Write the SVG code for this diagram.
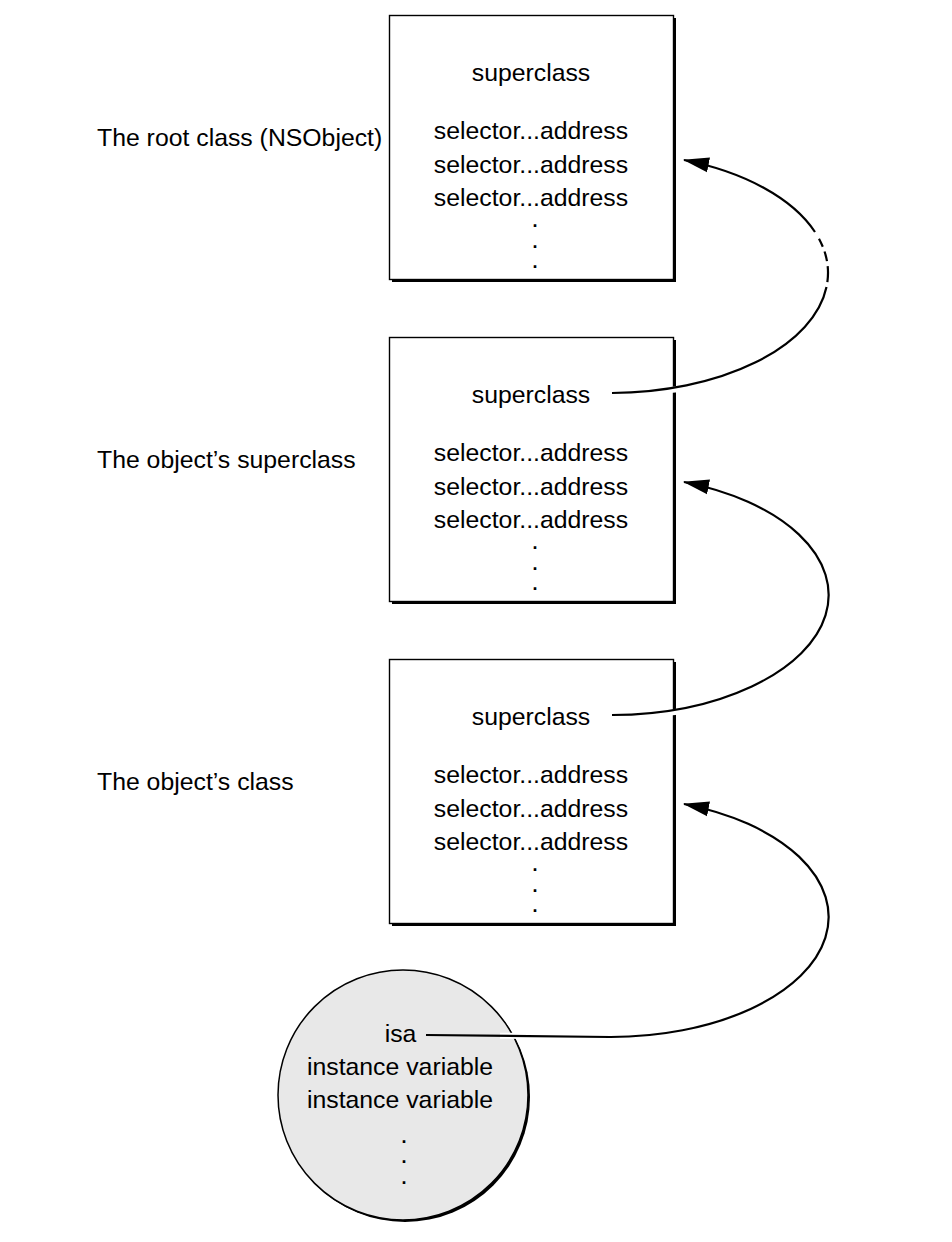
<svg xmlns="http://www.w3.org/2000/svg" width="952" height="1242" viewBox="0 0 952 1242">
<style>
text{font-family:"Liberation Sans",Arial,Helvetica,sans-serif;font-size:24.8px;fill:#000}
.c{text-anchor:middle}
.d{text-anchor:middle;font-size:18px;font-weight:bold}
.box{fill:#fff;stroke:#000;stroke-width:1.4}
.shadow{fill:#000}
.conn{fill:none;stroke:#000;stroke-width:2.2}
.halo{fill:none;stroke:#fff;stroke-width:6}
</style>
<defs>
<marker id="arrow" markerUnits="userSpaceOnUse" markerWidth="26" markerHeight="16" viewBox="0 0 26 16" refX="25" refY="8" orient="auto">
<path d="M0,0.5 L26,8 L0,15.5 Z" fill="#000"/>
</marker>
</defs>
<rect width="952" height="1242" fill="#fff"/>

<g id="label-root"><text x="97" y="146">The root class (NSObject)</text></g>
<g id="label-superclass"><text x="97" y="468">The object’s superclass</text></g>
<g id="label-class"><text x="97" y="790">The object’s class</text></g>

<g id="box-root">
<rect class="shadow" x="392" y="18" width="284" height="264"/>
<rect class="box" x="389.5" y="15.5" width="284" height="264"/>
<text class="c" x="531" y="80.5">superclass</text>
<text class="c" x="531" y="139">selector...address</text>
<text class="c" x="531" y="172.5">selector...address</text>
<text class="c" x="531" y="206">selector...address</text>
<text class="d" x="535" y="226.5">.</text>
<text class="d" x="535" y="247.5">.</text>
<text class="d" x="535" y="268.2">.</text>
</g>

<g id="box-superclass">
<rect class="shadow" x="392" y="340" width="284" height="264"/>
<rect class="box" x="389.5" y="337.5" width="284" height="264"/>
<text class="c" x="531" y="402.5">superclass</text>
<text class="c" x="531" y="461">selector...address</text>
<text class="c" x="531" y="494.5">selector...address</text>
<text class="c" x="531" y="528">selector...address</text>
<text class="d" x="535" y="548.5">.</text>
<text class="d" x="535" y="569.5">.</text>
<text class="d" x="535" y="590.2">.</text>
</g>

<g id="box-class">
<rect class="shadow" x="392" y="662" width="284" height="264"/>
<rect class="box" x="389.5" y="659.5" width="284" height="264"/>
<text class="c" x="531" y="724.5">superclass</text>
<text class="c" x="531" y="783">selector...address</text>
<text class="c" x="531" y="816.5">selector...address</text>
<text class="c" x="531" y="850">selector...address</text>
<text class="d" x="535" y="870.5">.</text>
<text class="d" x="535" y="891.5">.</text>
<text class="d" x="535" y="912.2">.</text>
</g>

<g id="object">
<circle cx="405" cy="1097" r="125" fill="#000"/>
<circle cx="403" cy="1095" r="125" fill="#e8e8e8" stroke="#000" stroke-width="1.5"/>
<text class="c" x="400.5" y="1042">isa</text>
<text class="c" x="400" y="1075">instance variable</text>
<text class="c" x="400" y="1107.5">instance variable</text>
<text class="d" x="404" y="1143.2">.</text>
<text class="d" x="404" y="1163.2">.</text>
<text class="d" x="404" y="1184.2">.</text>
</g>

<g id="connectors">
<path class="halo" d="M660,391 L690,388"/>
<path class="halo" d="M660,713.5 L690,710.5"/>
<path class="halo" d="M500,1035.7 L545,1036.3"/>
<path class="conn" d="M426,1035 L610,1037 A218,120 0 0 0 684,804" marker-end="url(#arrow)"/>
<path class="conn" d="M612,715 A218,120 0 0 0 684,482" marker-end="url(#arrow)"/>
<path class="conn" d="M612,393 A218,120 0 0 0 826.5,287"/>
<path class="conn" d="M826.5,287 A218,120 0 0 0 815,232" stroke-dasharray="0 5 16 5 10 5 9 60"/>
<path class="conn" d="M815,232 A218,120 0 0 0 684,160" marker-end="url(#arrow)"/>
</g>
</svg>
